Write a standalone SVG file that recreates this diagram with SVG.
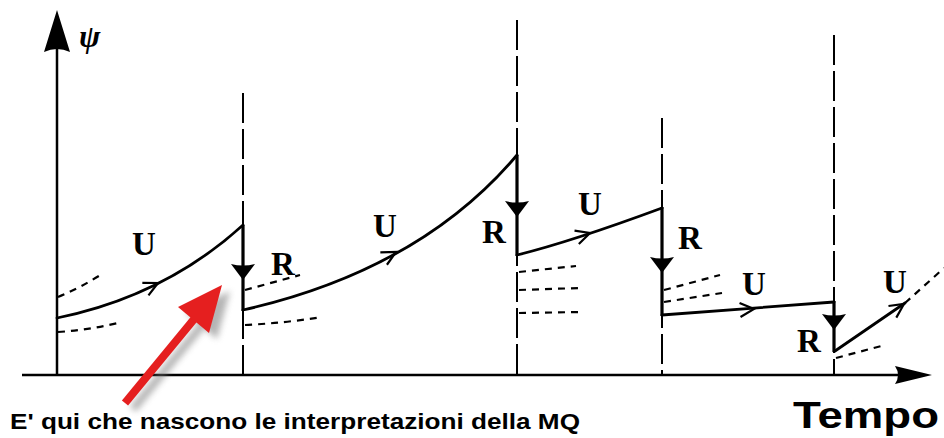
<svg xmlns="http://www.w3.org/2000/svg" width="944" height="438" viewBox="0 0 944 438">
<style>
.axis{stroke:#000;stroke-width:2.5;fill:none}
.vd{stroke:#000;stroke-width:2;stroke-dasharray:30 6;fill:none}
.cur{stroke:#000;stroke-width:2.8;fill:none;stroke-linecap:round}
.jump{stroke:#000;stroke-width:3.2;fill:none}
.dsh{stroke:#000;stroke-width:2.2;stroke-dasharray:7 6;fill:none}
.chev{stroke:#000;stroke-width:2.2;fill:none;stroke-linejoin:miter}
.lbl{font-family:"Liberation Serif",serif;font-weight:bold;font-size:33px;fill:#000;text-anchor:middle}
.cap{font-family:"Liberation Sans",Arial,sans-serif;font-weight:bold;fill:#000}
</style>
<defs>
<path id="chev" class="chev" d="M-14,-7 L0,0 L-14,7"/>
<path id="tri" d="M-12,0 Q0,3 12,0 L0,16 Z" fill="#000"/>
<filter id="blur" x="-20%" y="-20%" width="140%" height="140%"><feGaussianBlur stdDeviation="3"/></filter>
</defs>
<rect width="944" height="438" fill="#fff"/>
<g id="axes">
<line class="axis" x1="57" y1="375" x2="57" y2="40"/>
<path d="M57,10 L70,52 Q57,46 44,52 Z" fill="#000"/>
<line class="axis" x1="22" y1="375" x2="905" y2="375"/>
<path d="M932,375 L895,366 Q901,375 895,384 Z" fill="#000"/>
<text x="79" y="47" font-family="Liberation Serif,serif" font-style="italic" font-weight="bold" font-size="32">ψ</text>
</g>
<g id="connectors">
<line class="vd" x1="243" y1="93" x2="243" y2="375"/>
<line class="vd" x1="517" y1="20" x2="517" y2="375"/>
<line class="vd" x1="662" y1="118" x2="662" y2="375"/>
<line class="vd" x1="834" y1="35" x2="834" y2="375"/>
<path class="cur" d="M57,318 Q165,296 243,225"/>
<path class="cur" d="M243,310 Q420,270 517,155"/>
<path class="cur" d="M517,255 Q570,242 662,208"/>
<path class="cur" d="M662,315 L834,302"/>
<path class="cur" d="M835,351 L905,303"/>
<path class="dsh" d="M905,303 L944,268" stroke-width="2.6"/>
<line class="jump" x1="243" y1="225" x2="243" y2="311"/>
<line class="jump" x1="517" y1="155" x2="517" y2="256"/>
<line class="jump" x1="662" y1="207" x2="662" y2="316"/>
<line class="jump" x1="834" y1="301" x2="834" y2="352"/>
<use href="#tri" transform="translate(243,264)"/>
<use href="#tri" transform="translate(517,201)"/>
<use href="#tri" transform="translate(662,257)"/>
<use href="#tri" transform="translate(834,314)"/>
<use href="#chev" transform="translate(158,283) rotate(-26)"/>
<use href="#chev" transform="translate(396,252) rotate(-28)"/>
<use href="#chev" transform="translate(590,233) rotate(-18)"/>
<use href="#chev" transform="translate(754,309) rotate(-4)"/>
<use href="#chev" transform="translate(904,304) rotate(-34)"/>
<path class="dsh" d="M58,297 Q80,288 102,274"/>
<path class="dsh" d="M58,332 Q90,330 122,322"/>
<path class="dsh" d="M245,290 L300,275"/>
<path class="dsh" d="M245,325 Q285,323 322,317"/>
<path class="dsh" d="M519,272 L576,266"/>
<path class="dsh" d="M519,290 L580,288"/>
<path class="dsh" d="M519,313 L582,312"/>
<path class="dsh" d="M664,290 L720,275"/>
<path class="dsh" d="M664,302 L722,293"/>
<path class="dsh" d="M836,358 L885,345"/>
</g>
<g id="labels">
<text class="lbl" x="144" y="255">U</text>
<text class="lbl" x="283" y="275">R</text>
<text class="lbl" x="385" y="237">U</text>
<text class="lbl" x="494" y="243">R</text>
<text class="lbl" x="590" y="215">U</text>
<text class="lbl" x="690" y="249">R</text>
<text class="lbl" x="754" y="295">U</text>
<text class="lbl" x="809" y="352">R</text>
<text class="lbl" x="895" y="293">U</text>
</g>
<g id="red-arrow">
<g filter="url(#blur)" opacity="0.55" transform="translate(8,6)">
<line x1="125" y1="403" x2="195" y2="318" stroke="#777" stroke-width="8"/>
<path d="M222,285 L209,333 L178,307 Z" fill="#777"/>
</g>
<line x1="125" y1="403" x2="195" y2="318" stroke="#e51f1f" stroke-width="8"/>
<path d="M222,285 L209,333 L178,307 Z" fill="#e51f1f"/>
</g>
<g id="captions">
<text class="cap" x="10" y="429" font-size="22" textLength="570" lengthAdjust="spacingAndGlyphs">E' qui che nascono le interpretazioni della MQ</text>
<text class="cap" x="793" y="428" font-size="37" textLength="146" lengthAdjust="spacingAndGlyphs">Tempo</text>
</g>
</svg>
